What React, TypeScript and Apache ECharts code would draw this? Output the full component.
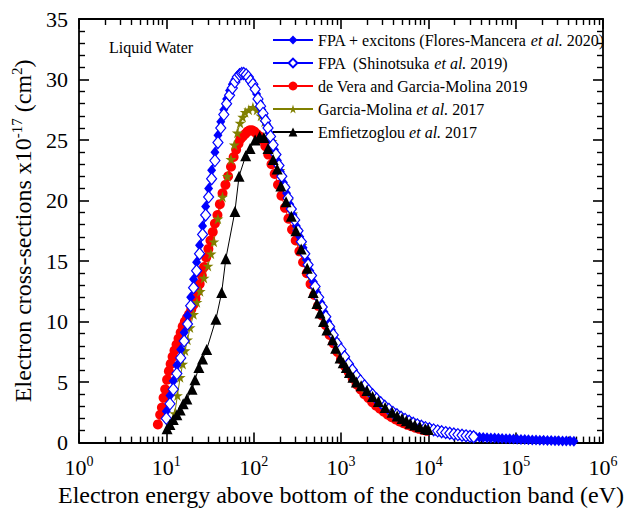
import React, { useEffect, useRef } from "react";
import * as echarts from "echarts";

// ---------- data (energy in eV, cross-section in 1e-17 cm^2) ----------
const fpaExcE = [10, 11, 12, 13.2, 14.6, 16, 17.5, 19, 20.5, 22.2, 24, 26, 28.2, 30.5, 33, 36, 39, 42, 45.5, 49, 53, 57, 61, 65, 69, 73, 77,
  85, 95, 108, 116, 124, 132, 141, 151, 161, 173, 187, 202, 219, 238, 259, 282, 308, 337, 368, 402, 440, 482, 530, 582, 640, 705, 777, 857, 950,
  1050, 1160, 1285, 1425, 1585, 1765, 1965, 2185, 2430, 2700, 3010, 3350, 3730, 4150, 4620, 5140, 5720, 6370, 7090, 7900, 8800, 9780,
  10900, 12100, 13500, 15000, 16700, 18600, 20700, 23000, 25600, 28500, 31700, 35000, 38500, 42500, 47000, 52000, 57500, 63500, 70000,
  77500, 85500, 94500, 104000, 115000, 127000, 140000, 155000, 171000, 189000, 209000, 231000, 255000, 282000, 311000, 344000, 380000, 420000, 464000];
const fpaExcS = [2.6, 3.9, 5.1, 6.4, 7.7, 9.1, 10.5, 12.0, 13.5, 14.9, 16.3, 17.9, 19.5, 21.0, 22.5, 24.0, 25.4, 26.5, 27.5, 28.4, 29.1, 29.6, 30.0, 30.3, 30.5, 30.5, 30.4,
  30.3, 29.7, 28.8, 28.1, 27.5, 26.9, 26.3, 25.6, 24.9, 24.2, 23.3, 22.4, 21.5, 20.6, 19.7, 18.8, 17.9, 17.0, 16.1, 15.1, 14.2, 13.3, 12.4, 11.6, 10.8, 10.0, 9.3, 8.5, 7.9,
  7.3, 6.7, 6.2, 5.7, 5.2, 4.8, 4.4, 4.05, 3.7, 3.4, 3.1, 2.85, 2.6, 2.4, 2.2, 2.0, 1.84, 1.68, 1.54, 1.41, 1.3, 1.19,
  1.1, 1.01, 0.93, 0.86, 0.8, 0.74, 0.68, 0.63, 0.58, 0.54, 0.5, 0.47, 0.45, 0.43, 0.41, 0.39, 0.37, 0.35, 0.34,
  0.32, 0.31, 0.29, 0.28, 0.26, 0.25, 0.24, 0.22, 0.21, 0.2, 0.19, 0.18, 0.17, 0.16, 0.15, 0.14, 0.13, 0.125, 0.12];

const fpaE = [10, 11, 12, 13.2, 14.6, 16, 17.5, 19, 20.5, 22.2, 24, 26, 28.2, 30.5, 33, 36, 39, 42, 45.5, 49, 53, 57, 61, 65, 69, 73, 77,
  82, 87, 92, 98, 104, 112, 120, 128, 137, 146, 156, 167, 180, 195, 210, 228, 248, 270, 295, 322, 352, 385, 420, 460, 505, 555, 610, 670, 740, 815, 900,
  1000, 1100, 1220, 1350, 1500, 1670, 1860, 2070, 2300, 2560, 2850, 3170, 3530, 3930, 4370, 4870, 5420, 6030, 6720, 7480, 8330, 9270,
  10300, 11500, 12800, 14200, 15800, 17600, 19600, 21800, 24300, 27000, 30000, 33000];
const fpaS = [2.0, 3.2, 4.4, 5.7, 7.0, 8.4, 9.8, 11.3, 12.8, 14.2, 15.6, 17.2, 18.8, 20.3, 21.8, 23.3, 24.8, 26.0, 27.1, 28.0, 28.7, 29.3, 29.8, 30.2, 30.4, 30.5, 30.5,
  30.4, 30.2, 29.9, 29.6, 29.2, 28.4, 27.8, 27.2, 26.6, 26.0, 25.3, 24.6, 23.8, 22.9, 22.0, 21.1, 20.2, 19.3, 18.4, 17.5, 16.6, 15.6, 14.7, 13.8, 12.9, 12.0, 11.2, 10.4, 9.6, 8.9, 8.2,
  7.7, 7.1, 6.5, 6.0, 5.5, 5.1, 4.7, 4.3, 3.95, 3.6, 3.3, 3.0, 2.75, 2.5, 2.3, 2.1, 1.92, 1.76, 1.6, 1.47, 1.35, 1.24,
  1.14, 1.05, 0.97, 0.9, 0.83, 0.77, 0.71, 0.66, 0.61, 0.56, 0.52, 0.48];

const deVeraE = [8.0, 8.5, 8.9, 9.3, 9.7, 10.2, 10.7, 11.2, 11.8, 12.4, 13.1, 13.8, 14.6, 15.4, 16.3, 17.2, 18.2, 19.3, 20.4, 21.6, 22.8, 24.1, 25.5, 27, 28.6, 30.3, 32, 34, 36, 38.5,
  41, 44, 47.5, 51, 55, 59, 63, 67, 71, 75, 80, 85, 90, 96, 102, 109, 117, 126, 136, 147, 160, 174, 190, 208, 228, 250, 275, 303, 334, 368, 406, 448, 495, 547, 605, 669, 740, 818, 905,
  1000, 1110, 1230, 1360, 1510, 1670, 1850, 2050, 2270, 2520, 2790, 3090, 3430, 3800, 4210, 4670, 5180, 5740, 6360, 7050, 7820, 8670, 9610];
const deVeraS = [1.5, 2.3, 2.9, 3.7, 4.4, 5.2, 5.9, 6.5, 7.1, 7.6, 8.1, 8.6, 9.1, 9.6, 10.0, 10.3, 10.6, 11.0, 11.4, 11.9, 12.5, 13.1, 13.8, 14.5, 15.3, 16.0, 16.7, 17.4, 18.1, 18.8,
  19.7, 20.6, 21.3, 22.0, 22.8, 23.6, 24.2, 24.7, 25.1, 25.3, 25.5, 25.7, 25.8, 25.8, 25.7, 25.5, 25.3, 25.0, 24.5, 23.8, 23.0, 22.2, 21.3, 20.4, 19.4, 18.5, 17.6, 16.7, 15.8, 14.9, 14.0, 13.1, 12.2, 11.3, 10.5, 9.7, 8.9, 8.2, 7.5,
  6.9, 6.3, 5.8, 5.3, 4.8, 4.4, 4.0, 3.7, 3.35, 3.05, 2.8, 2.55, 2.3, 2.1, 1.92, 1.75, 1.6, 1.47, 1.35, 1.24, 1.14, 1.05, 0.97];

const garciaE = [12.5, 13.4, 14.4, 15.4, 16.4, 17.5, 18.7, 20.5, 22.4, 24.4, 27, 30, 32.5, 35, 39, 44, 50, 55, 60, 65, 70, 75, 80, 88, 98, 109, 121, 133, 146,
  162, 180, 200, 224, 250, 280, 315, 355, 400, 450, 510, 580, 660, 750, 850, 970, 1100, 1250, 1430, 1630, 1860, 2120, 2420, 2760, 3150, 3600, 4100, 4700, 5400, 6200, 7100, 8100, 9300];
const garciaS = [2.4, 3.9, 5.4, 6.5, 7.6, 8.5, 9.5, 10.6, 11.6, 12.5, 13.6, 14.6, 15.6, 16.6, 18.5, 20.3, 22.0, 23.4, 24.6, 25.6, 26.4, 26.9, 27.3, 27.5, 27.7, 27.5, 27.0, 26.5, 25.9,
  24.9, 23.7, 22.5, 21.2, 20.0, 18.9, 17.6, 16.3, 15.0, 13.8, 12.6, 11.5, 10.4, 9.4, 8.5, 7.6, 6.9, 6.2, 5.6, 5.0, 4.55, 4.1, 3.7, 3.3, 2.95, 2.65, 2.4, 2.15, 1.95, 1.75, 1.57, 1.42, 1.28];

const emfE = [10.2, 11.0, 12.0, 13.2, 14.4, 15.6, 17.2, 19.7, 21.3, 23.6, 26, 29, 37, 43, 48, 61, 68, 81, 91, 104, 117, 131, 146, 167, 186, 205, 235, 270, 305, 350, 410, 480, 530, 575, 630, 690,
  800, 870, 975, 1060, 1150, 1250, 1370, 1500, 1700, 1980, 2300, 2680, 3200, 3850, 4400, 5000, 5600, 6200, 7000, 8000, 9200, 10000];
const emfS = [1.15, 1.5, 1.9, 2.3, 2.7, 3.2, 3.6, 4.4, 5.2, 6.2, 6.9, 7.7, 10.2, 12.4, 15.2, 19.1, 22.0, 23.7, 24.3, 25.0, 25.3, 25.2, 24.3, 23.4, 22.6, 21.2, 19.9, 18.7, 17.5, 16.0, 14.4, 12.4, 11.5, 10.7, 10.0, 9.3,
  8.5, 7.8, 7.0, 6.6, 6.2, 5.8, 5.4, 5.0, 4.7, 4.3, 3.8, 3.4, 2.9, 2.5, 2.2, 2.0, 1.8, 1.6, 1.45, 1.3, 1.15, 1.08];

const decadeTicks = [1, 10, 100, 1000, 10000, 100000, 1000000];

const seriesNames = [
  "FPA + excitons (Flores-Mancera et al. 2020)",
  "FPA  (Shinotsuka et al. 2019)",
  "de Vera and Garcia-Molina 2019",
  "Garcia-Molina et al. 2017",
  "Emfietzoglou et al. 2017",
];

const FONT = "'Liberation Serif', 'Times New Roman', serif";
const STAR = "path://M50,0 L61,35 L98,35 L68,57 L79,91 L50,70 L21,91 L32,57 L2,35 L39,35 Z";

function zip(e: number[], s: number[]) {
  return e.map((v, i) => [v, s[i]]);
}

const frameLine = () => ({ show: true, onZero: false, lineStyle: { color: "#000", width: 1.8 } });
const noLine = () => ({ show: false, onZero: false });
const majorTick = (extra: any = {}) => ({ show: true, inside: true, length: 10, lineStyle: { color: "#000", width: 1.6 }, ...extra });
const minorTickX = (vals: number[]) => ({ show: true, inside: true, length: 6, customValues: vals, lineStyle: { color: "#000", width: 1.4 } });
const minorTickY = () => ({ show: true, splitNumber: 5, length: 6, lineStyle: { color: "#000", width: 1.4 } });

export default function App() {
  const ref = useRef<HTMLDivElement>(null);
  useEffect(() => {
    const chart = echarts.init(ref.current!, null, { renderer: "svg" });
    const minorX: number[] = [];
    for (let d = 1; d < 1e6; d *= 10) for (let k = 2; k <= 9; k++) minorX.push(k * d);

    const baseX = () => ({
      type: "log",
      logBase: 10,
      min: 1,
      max: 1e6,
      splitLine: { show: false },
    });

    const option: any = {
      animation: false,
      backgroundColor: "#fff",
      textStyle: { fontFamily: FONT },
      grid: { left: 79, right: 27, top: 19, bottom: 66, containLabel: false },
      title: {
        text: "Liquid Water",
        left: 104,
        top: 34,
        textStyle: { fontFamily: FONT, fontSize: 16, fontWeight: "normal", color: "#000" },
      },
      legend: {
        orient: "vertical",
        left: 267,
        top: 27,
        itemWidth: 40,
        itemHeight: 11,
        itemGap: 7,
        data: seriesNames,
        textStyle: {
          fontFamily: FONT,
          fontSize: 16,
          color: "#000",
          rich: { i: { fontStyle: "italic", fontFamily: FONT, fontSize: 16, color: "#000" } },
        },
        formatter: (name: string) => name.replace("et al.", "{i|et al.}"),
      },
      xAxis: [
        {
          ...baseX(),
          position: "bottom",
          axisLine: frameLine(),
          axisTick: majorTick({ customValues: decadeTicks }),
          axisLabel: {
            show: true,
            margin: 12,
            customValues: decadeTicks,
            formatter: (v: number) => `{b|10}{s|${Math.round(Math.log10(v))}}`,
            rich: {
              b: { fontSize: 22, fontFamily: FONT, color: "#000" },
              s: { fontSize: 14, fontFamily: FONT, color: "#000", padding: [0, 0, 11, 0] },
            },
          },
          name: "Electron energy above bottom of the conduction band (eV)",
          nameLocation: "middle",
          nameGap: 38,
          nameTextStyle: { fontFamily: FONT, fontSize: 24, color: "#000" },
        },
        {
          ...baseX(),
          position: "bottom",
          axisLine: noLine(),
          axisTick: minorTickX(minorX),
          axisLabel: { show: false },
        },
        {
          ...baseX(),
          position: "top",
          axisLine: frameLine(),
          axisTick: majorTick({ customValues: decadeTicks }),
          axisLabel: { show: false },
        },
        {
          ...baseX(),
          position: "top",
          axisLine: noLine(),
          axisTick: minorTickX(minorX),
          axisLabel: { show: false },
        },
      ],
      yAxis: [
        {
          type: "value",
          min: 0,
          max: 35,
          interval: 5,
          position: "left",
          axisLine: frameLine(),
          axisTick: majorTick(),
          minorTick: minorTickY(),
          splitLine: { show: false },
          axisLabel: { margin: 11, fontSize: 22, fontFamily: FONT, color: "#000" },
          name: "{t|Electron cross-sections x10}{s|-17}{t| (cm}{s|2}{t|)}",
          nameLocation: "middle",
          nameGap: 42,
          nameTextStyle: {
            fontFamily: FONT,
            fontSize: 24,
            color: "#000",
            rich: {
              t: { fontSize: 24, fontFamily: FONT, color: "#000" },
              s: { fontSize: 15, fontFamily: FONT, color: "#000", padding: [0, 0, 12, 0] },
            },
          },
        },
        {
          type: "value",
          min: 0,
          max: 35,
          interval: 5,
          position: "right",
          axisLine: frameLine(),
          axisTick: majorTick(),
          minorTick: minorTickY(),
          splitLine: { show: false },
          axisLabel: { show: false },
        },
      ],
      series: [
        {
          name: seriesNames[2],
          type: "line",
          data: zip(deVeraE, deVeraS),
          symbol: "circle",
          symbolSize: 10,
          itemStyle: { color: "#ff0000" },
          lineStyle: { color: "#ff0000", width: 1 },
        },
        {
          name: seriesNames[3],
          type: "line",
          data: zip(garciaE, garciaS),
          symbol: STAR,
          symbolSize: 11,
          itemStyle: { color: "#808000" },
          lineStyle: { color: "#808000", width: 1 },
        },
        {
          name: seriesNames[0],
          type: "line",
          data: zip(fpaExcE, fpaExcS),
          symbol: "diamond",
          symbolSize: [9, 11],
          itemStyle: { color: "#0000ff" },
          lineStyle: { color: "#0000ff", width: 1 },
        },
        {
          name: seriesNames[1],
          type: "line",
          data: zip(fpaE, fpaS),
          symbol: "diamond",
          symbolSize: [10, 12],
          itemStyle: { color: "#ffffff", borderColor: "#0000ff", borderWidth: 1.2 },
          lineStyle: { color: "#0000ff", width: 1 },
        },
        {
          name: seriesNames[4],
          type: "line",
          data: zip(emfE, emfS),
          symbol: "triangle",
          symbolSize: 11,
          itemStyle: { color: "#000000" },
          lineStyle: { color: "#000000", width: 1 },
        },
      ],
    };
    chart.setOption(option);
    return () => chart.dispose();
  }, []);
  return <div ref={ref} style={{ position: "fixed", left: 0, top: 0, width: 630, height: 512 }} />;
}
